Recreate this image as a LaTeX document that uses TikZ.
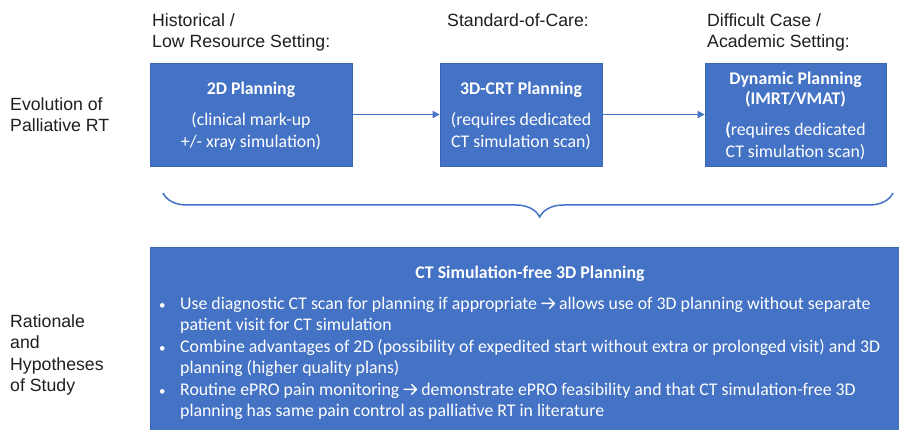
\documentclass[tikz,border=0pt]{standalone}
\usepackage{fontspec}
\setmainfont{Carlito}
\newfontfamily\arialf{Liberation Sans}
\usetikzlibrary{arrows.meta,decorations.pathreplacing}
\definecolor{boxblue}{HTML}{4472C4}
\definecolor{boxedge}{HTML}{3A65B5}
\newcommand{\rarr}{\mbox{\tikz[x=1pt,y=1pt,baseline=0pt]{\draw[white,line width=1.4pt,line cap=round,line join=round] (0.5,5.6) -- (13,5.6) (8,10.6) -- (13,5.6) -- (8,0.6);}}}
\newcommand{\blt}{\makebox[21pt][l]{\fontsize{13}{13}\selectfont•}}
\begin{document}
\begin{tikzpicture}[x=1pt,y=-1pt,
  lbl/.style={font=\arialf\fontsize{17.7}{21.5}\selectfont, align=left, anchor=base west, inner sep=0pt, text=black!88},
  stagebox/.style={rectangle, fill=boxblue, draw=boxedge, line width=0.6pt, inner sep=0pt},
  boxtext/.style={text=white, font=\fontsize{17.8}{21.5}\selectfont, inner sep=0pt, anchor=base},
  flow/.style={draw=boxblue, line width=1.6pt, -{Triangle[length=7pt,width=7pt]}},
  bracestyle/.style={draw=boxblue, line width=1.5pt, decorate, decoration={brace, mirror, amplitude=24pt, aspect=0.516}}
]
\useasboundingbox (0,0) rectangle (899,430);
\fill[white] (0,0) rectangle (899,430);

% left labels (base = last line)
\node[lbl] (evo) at (10,132) {Evolution of\\Palliative RT};
\node[lbl] (rhs) at (10,391.5) {Rationale\\and\\Hypotheses\\of Study};

% top labels
\node[lbl] (hist) at (152,48) {Historical /\\Low Resource Setting:};
\node[lbl] (soc) at (447,26.5) {Standard-of-Care:};
\node[lbl] (diff) at (707,48) {Difficult Case /\\Academic Setting:};

% stage boxes
\node[stagebox, minimum width=202pt, minimum height=103pt] (b1) at (251,114.5) {};
\node[stagebox, minimum width=162pt, minimum height=103pt] (b2) at (521,114.5) {};
\node[stagebox, minimum width=181pt, minimum height=103pt] (b3) at (795.5,114.5) {};

\node[boxtext] (t1a) at (251,94.5) {\bfseries 2D Planning};
\node[boxtext] (t1b) at (251,125.5) {(clinical mark-up};
\node[boxtext] (t1c) at (251,147.5) {+/- xray simulation)};

\node[boxtext] (t2a) at (521,94.5) {\bfseries 3D-CRT Planning};
\node[boxtext] (t2b) at (521,125.5) {(requires dedicated};
\node[boxtext] (t2c) at (521,147.5) {CT simulation scan)};

\node[boxtext] (t3a) at (795.5,84.5) {\bfseries Dynamic Planning};
\node[boxtext] (t3b) at (795.5,104.5) {\bfseries (IMRT/VMAT)};
\node[boxtext] (t3c) at (795.5,135.5) {{\bfseries (}requires dedicated};
\node[boxtext] (t3d) at (795.5,157.5) {CT simulation scan)};

% arrows
\draw[flow] (b1.east) -- (b2.west);
\draw[flow] (b2.east) -- (b3.west);

% brace
\coordinate (brL) at (163,193);
\coordinate (brR) at (893,193);
\draw[bracestyle] (brL) -- (brR);

% rationale box
\node[stagebox, anchor=north west, minimum width=752pt, minimum height=186pt] (rat) at (150,247) {};
\node[boxtext] (ratt) at (530,278.5) {\bfseries CT Simulation-free 3D Planning};
\node[boxtext, anchor=base west, align=left] (list) at (159,416.5) {%
\blt Use diagnostic CT scan for planning if appropriate \rarr{} allows use of 3D planning without separate\\
\hspace*{21pt}patient visit for CT simulation\\
\blt Combine advantages of 2D (possibility of expedited start without extra or prolonged visit) and 3D\\
\hspace*{21pt}planning (higher quality plans)\\
\blt Routine ePRO pain monitoring \rarr{} demonstrate ePRO feasibility and that CT simulation-free 3D\\
\hspace*{21pt}planning has same pain control as palliative RT in literature};
\end{tikzpicture}
\end{document}
